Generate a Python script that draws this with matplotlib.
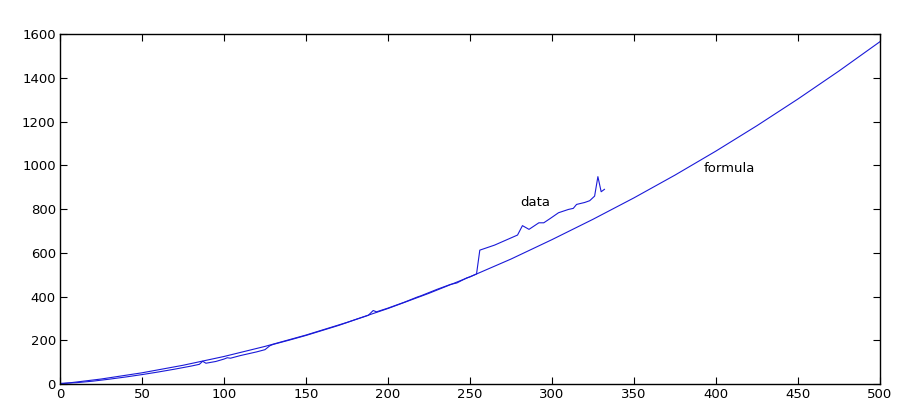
import matplotlib
matplotlib.use("Agg")
import matplotlib.pyplot as plt

# ── Data ──────────────────────────────────────────────────────────────────────
formula_x = [0, 25, 50, 75, 100, 125, 150, 175, 200, 225, 250,
             275, 300, 325, 350, 375, 400, 425, 450, 475, 500]
formula_y = [0, 22.7, 51.2, 85.6, 125.8, 171.9, 223.8, 281.6, 345.2, 414.7, 490,
             571.2, 660, 753, 851, 955, 1065, 1181, 1303, 1431, 1565]

data_x = [0, 10, 20, 30, 40, 50, 60, 70, 80, 85, 87, 89, 95, 100, 102, 104,
          110, 120, 125, 128, 130, 140, 150, 160, 170, 180, 188, 191, 193,
          200, 210, 218, 220, 230, 238, 242, 248, 250, 254,
          256, 265, 279, 282, 286, 292, 295, 299, 304, 310, 313, 315,
          320, 323, 326, 328, 330, 332]
data_y = [3, 6, 13, 22, 32, 43, 55, 68, 82, 90, 104, 95, 103, 114, 120, 118,
          130, 147, 157, 175, 181, 201, 222, 245, 268, 294, 314, 336, 330,
          347, 374, 398, 403, 433, 455, 462, 485, 490, 503,
          612, 635, 681, 724, 707, 737, 737, 757, 783, 798, 803, 821,
          830, 838, 859, 948, 879, 890]

x_ticks = [0, 50, 100, 150, 200, 250, 300, 350, 400, 450, 500]
y_ticks = [0, 200, 400, 600, 800, 1000, 1200, 1400, 1600]

fig = plt.figure(figsize=(9.10, 4.16), dpi=100)
ax = fig.add_axes([0.0659, 0.0769, 0.9011, 0.8413])

ax.plot(formula_x, formula_y, color="#1a1ad8", linewidth=0.8)
ax.plot(data_x, data_y, color="#1a1ad8", linewidth=0.8)

ax.text(290, 832, "data", fontsize=9.5, ha="center", va="center")
ax.text(408, 987, "formula", fontsize=9.5, ha="center", va="center")

ax.set_xlim(0, 500)
ax.set_ylim(0, 1600)
ax.set_xticks(x_ticks)
ax.set_yticks(y_ticks)
ax.tick_params(direction="in", length=5, width=0.8, top=True, right=True,
               labelsize=9.5, pad=3)
for sp in ax.spines.values():
    sp.set_linewidth(1.0)

fig.savefig("out.png", dpi=100, facecolor="white")
